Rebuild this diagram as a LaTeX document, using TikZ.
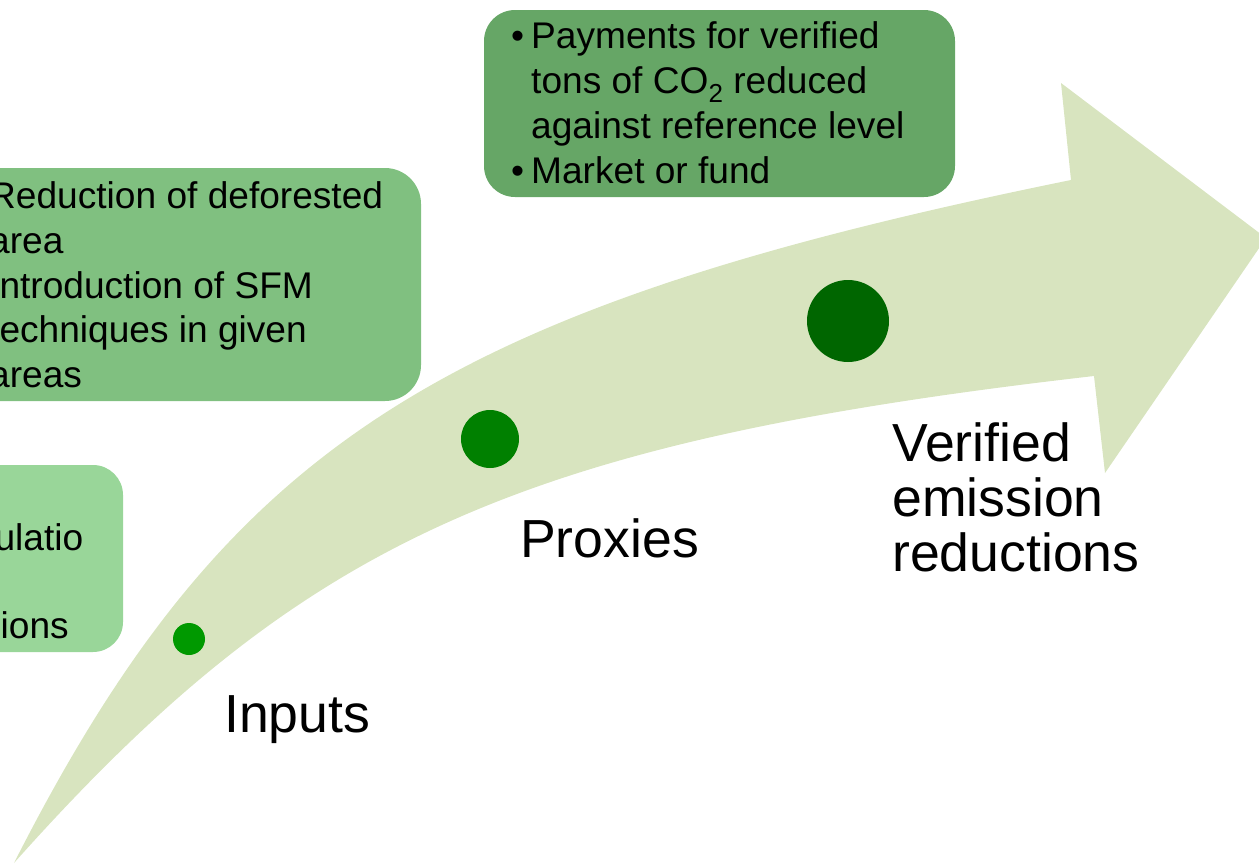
\documentclass[tikz,border=0pt]{standalone}
\usepackage{fontspec}
\setmainfont{Liberation Sans}
\definecolor{shaft}{HTML}{D8E4BF}
\definecolor{boxa}{HTML}{80C080}
\definecolor{boxb}{HTML}{99D699}
\definecolor{boxc}{HTML}{66A666}
\definecolor{dotsmall}{HTML}{009900}
\definecolor{dotmid}{HTML}{008000}
\definecolor{dotbig}{HTML}{006600}
\begin{document}
\begin{tikzpicture}[x=1pt,y=-1pt,
  boxtxt/.style={font=\fontsize{37.1}{44.8}\selectfont, inner sep=0pt, anchor=base west},
  boxtxtr/.style={font=\fontsize{37.1}{44.8}\selectfont, inner sep=0pt, anchor=base east},
  stage/.style={font=\fontsize{53.6}{55}\selectfont, inner sep=0pt, anchor=base west},
  dot/.style={circle, inner sep=0pt}]
\useasboundingbox (0,0) rectangle (1259,865);
\clip (0,0) rectangle (1259,865);

% curved block arrow
\fill[shaft] (14,863) .. controls (226,446) and (437,309) .. (1071,180)
  -- (1061,83) -- (1266,238) -- (1105,473) -- (1094,376)
  .. controls (519,442) and (303,539) .. (14,863) -- cycle;

% text panels
\fill[boxa] (-60,168) [rounded corners=36pt] rectangle (421,401);
\fill[boxb] (-200,465) [rounded corners=30pt] rectangle (123,652);
\fill[boxc] (484,10) [rounded corners=31pt] rectangle (955,197);

% panel of proxies
\node[boxtxt] (a1) at (-11,208) {Reduction of deforested};
\node[boxtxt] (a2) at (-11,253) {area};
\node[boxtxt] (a3) at (-11,298) {Introduction of SFM};
\node[boxtxt] (a4) at (-11,342) {techniques in given};
\node[boxtxt] (a5) at (-11,387) {areas};

% panel of inputs
\node[boxtxtr] (b1) at (83.5,550) {ulatio};
\node[boxtxtr] (b2) at (69,638) {ions};

% panel of payments
\node[boxtxt] (cb1) at (511,48) {•};
\node[boxtxt] (c1) at (531,48) {Payments for verified};
\node[boxtxt] (c2) at (531,93) {tons of CO\raisebox{-9pt}{\fontsize{26}{26}\selectfont 2} reduced};
\node[boxtxt] (c3) at (531,138) {against reference level};
\node[boxtxt] (cb2) at (511,183) {•};
\node[boxtxt] (c4) at (531,183) {Market or fund};

% stage markers
\node[dot, fill=dotsmall, minimum size=32pt] (d1) at (189,639) {};
\node[dot, fill=dotmid, minimum size=58pt] (d2) at (490,439) {};
\node[dot, fill=dotbig, minimum size=82pt] (d3) at (848,321) {};

% stage labels
\node[stage] (inputs) at (224,732) {Inputs};
\node[stage] (proxies) at (520,557) {Proxies};
\node[stage] (ver1) at (892,461) {Verified};
\node[stage] (ver2) at (892,516) {emission};
\node[stage] (ver3) at (892,571) {reductions};
\end{tikzpicture}
\end{document}
